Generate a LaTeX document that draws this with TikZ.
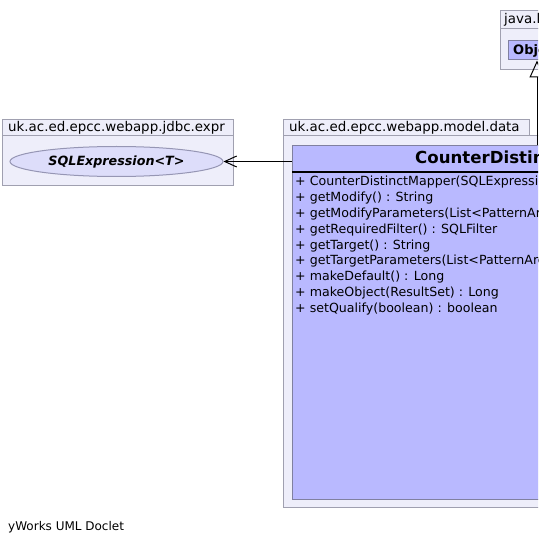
\documentclass[tikz,border=0pt]{standalone}
\usepackage{fontspec}
\setmainfont{DejaVu Sans}
\usetikzlibrary{arrows.meta,shapes.geometric}
\definecolor{pkgfill}{RGB}{238,238,250}
\definecolor{pkgdraw}{RGB}{160,160,176}
\definecolor{clsfill}{RGB}{185,185,255}
\definecolor{clsdraw}{RGB}{128,128,160}
\definecolor{ellfill}{RGB}{221,221,250}
\definecolor{elldraw}{RGB}{150,150,180}
\tikzset{
  pkg/.style={draw=pkgdraw, fill=pkgfill, line width=1pt},
  cls/.style={draw=clsdraw, fill=clsfill, line width=1pt},
  lbl/.style={font=\fontsize{13.4}{14}\selectfont, anchor=west, inner sep=0pt},
  meth/.style={font=\fontsize{12.6}{13}\selectfont, anchor=west, inner sep=0pt},
}
\begin{document}
\begin{tikzpicture}[x=1pt,y=-1pt]
\useasboundingbox (0,0) rectangle (538,545);
\clip (0,0) rectangle (538,545);
\fill[white] (0,0) rectangle (538,545);
% java.lang package
\draw[pkg] (500.5,10.5) rectangle (600,28.5);
\draw[pkg] (500.5,28.5) rectangle (600,69.5);
\node[lbl] (jl) at (504,19.5) {java.lang};
\draw[cls] (508.5,41) rectangle (600,60);
\node[font=\bfseries\fontsize{13}{13}\selectfont, anchor=west, inner sep=0pt] (obj) at (513,50.5) {Object};
\coordinate (objb) at (537,60.5);
% left package
\draw[pkg] (2.5,119.5) rectangle (233.5,135.5);
\draw[pkg] (2.5,135.5) rectangle (233.5,185.5);
\node[lbl] (p1) at (8,127.5) {uk.ac.ed.epcc.webapp.jdbc.expr};
\node[ellipse, draw=elldraw, fill=ellfill, line width=1pt, minimum width=213pt, minimum height=30pt, inner sep=0pt,
      font=\bfseries\itshape\fontsize{12.7}{13}\selectfont] (sqle) at (116.5,161.5) {SQLExpression<T>};
% right package
\draw[pkg] (283.5,119.5) rectangle (529.5,135.5);
\draw[pkg] (283.5,135.5) rectangle (620,507.5);
\node[lbl] (p2) at (289,127.5) {uk.ac.ed.epcc.webapp.model.data};
\node[cls, minimum width=320pt, minimum height=354pt, anchor=north west, inner sep=0pt] (cdm) at (292,145) {};
\draw[line width=2pt] (292,172) -- (620,172);
\node[font=\bfseries\fontsize{16.6}{17}\selectfont, anchor=west, inner sep=0pt] (cname) at (415,159) {CounterDistinctMapper};
\foreach \i/\t in {0/{CounterDistinctMapper(SQLExpression<T>)},
                   1/{getModify() : String},
                   2/{getModifyParameters(List<PatternArgument>)},
                   3/{getRequiredFilter() : SQLFilter},
                   4/{getTarget() : String},
                   5/{getTargetParameters(List<PatternArgument>)},
                   6/{makeDefault() : Long},
                   7/{makeObject(ResultSet) : Long},
                   8/{setQualify(boolean) : boolean}} {
  \node[meth] (m\i) at (295,182+15.9*\i) {+ \t};
}
% connectors
\draw[line width=1pt, -{Straight Barb[length=12pt,width=11pt]}] (cdm.west |- sqle.east) -- (sqle.east);
\draw[line width=1pt, -{Triangle[open,length=17pt,width=15pt]}] (cdm.north -| objb) -- (objb);
% footer
\node[font=\fontsize{12}{13}\selectfont, anchor=west, inner sep=0pt] (foot) at (8,527) {yWorks UML Doclet};
\end{tikzpicture}
\end{document}
